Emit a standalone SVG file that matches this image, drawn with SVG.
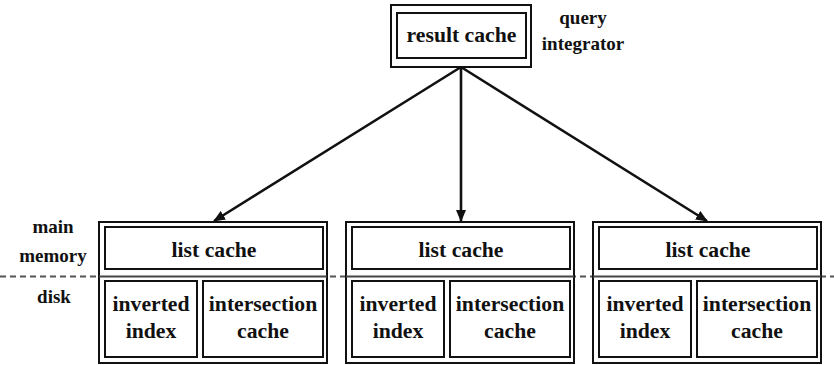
<svg xmlns="http://www.w3.org/2000/svg" width="834" height="365" viewBox="0 0 834 365">
  <style>
    .frame { fill: #fff; stroke: #111; stroke-width: 2; }
    .cell { fill: none; stroke: #111; stroke-width: 2; }
    text { font-family: 'Liberation Serif', 'DejaVu Serif', serif; font-weight: 700; fill: #111; text-anchor: middle; }
    .t { font-size: 21.7px; }
    .side { font-size: 19px; }
    .edge { stroke: #111; stroke-width: 2.6; fill: none; marker-end: url(#head); }
    .split { stroke: #444; stroke-width: 2; }
  </style>
  <defs>
    <marker id="head" markerWidth="12" markerHeight="10" refX="11" refY="5" orient="auto" markerUnits="userSpaceOnUse">
      <path d="M0,0 L12,5 L0,10 Z" fill="#111"/>
    </marker>
  </defs>

  <rect width="834" height="365" fill="#fff"/>

  <!-- memory / disk boundary -->
  <line x1="0" y1="276.5" x2="834" y2="276.5" stroke="#555" stroke-width="2" stroke-dasharray="6,4"/>

  <!-- side labels -->
  <text class="side" x="583" y="24" font-family="Liberation Serif">query</text>
  <text class="side" x="583" y="50" font-family="Liberation Serif">integrator</text>
  <text class="side" x="53" y="233" font-family="Liberation Serif">main</text>
  <text class="side" x="53" y="262" font-family="Liberation Serif">memory</text>
  <text class="side" x="54" y="303" font-family="Liberation Serif">disk</text>

  <g id="result-cache">
    <rect class="frame" x="391" y="5" width="140" height="62"/>
    <rect class="cell" x="397" y="13" width="129" height="45"/>
    <text class="t" x="461.5" y="42">result cache</text>
  </g>

  <g id="server-1">
    <rect class="frame" x="99" y="222" width="228" height="141"/>
    <rect class="cell" x="105" y="227" width="218" height="42"/>
    <line class="split" x1="99" y1="276.5" x2="327" y2="276.5"/>
    <rect class="cell" x="105" y="281" width="92" height="76"/>
    <rect class="cell" x="203" y="281" width="120" height="76"/>
    <text class="t" x="214" y="257">list cache</text>
    <text class="t" x="151" y="311">inverted</text>
    <text class="t" x="151" y="338">index</text>
    <text class="t" x="263" y="311">intersection</text>
    <text class="t" x="263" y="338">cache</text>
  </g>

  <g id="server-2">
    <rect class="frame" x="346" y="222" width="228" height="141"/>
    <rect class="cell" x="352" y="227" width="218" height="42"/>
    <line class="split" x1="346" y1="276.5" x2="574" y2="276.5"/>
    <rect class="cell" x="352" y="281" width="92" height="76"/>
    <rect class="cell" x="450" y="281" width="120" height="76"/>
    <text class="t" x="461" y="257">list cache</text>
    <text class="t" x="398" y="311">inverted</text>
    <text class="t" x="398" y="338">index</text>
    <text class="t" x="510" y="311">intersection</text>
    <text class="t" x="510" y="338">cache</text>
  </g>

  <g id="server-3">
    <rect class="frame" x="593" y="222" width="228" height="141"/>
    <rect class="cell" x="599" y="227" width="218" height="42"/>
    <line class="split" x1="593" y1="276.5" x2="821" y2="276.5"/>
    <rect class="cell" x="599" y="281" width="92" height="76"/>
    <rect class="cell" x="697" y="281" width="120" height="76"/>
    <text class="t" x="708" y="257">list cache</text>
    <text class="t" x="645" y="311">inverted</text>
    <text class="t" x="645" y="338">index</text>
    <text class="t" x="757" y="311">intersection</text>
    <text class="t" x="757" y="338">cache</text>
  </g>

  <g id="connectors">
    <line class="edge" x1="461" y1="67" x2="214" y2="221"/>
    <line class="edge" x1="461" y1="67" x2="461" y2="221"/>
    <line class="edge" x1="461" y1="67" x2="707" y2="221"/>
  </g>
</svg>
